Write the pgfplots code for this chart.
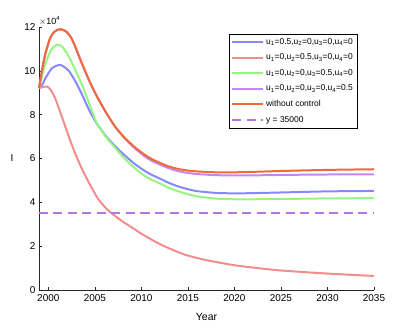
\documentclass[border=0pt]{standalone}
\usepackage{pgfplots}
\pgfplotsset{compat=1.18}
\usepackage{fontspec}
\setmainfont{Liberation Sans}

\definecolor{axisgray}{rgb}{0.15,0.15,0.15}
\definecolor{cblue}{rgb}{0.53,0.53,1.0}
\definecolor{cred}{rgb}{0.96,0.55,0.55}
\definecolor{cgreen}{rgb}{0.59,0.96,0.51}
\definecolor{cpurple}{rgb}{0.76,0.53,0.94}
\definecolor{corange}{rgb}{0.94,0.41,0.22}
\definecolor{cdash}{rgb}{0.69,0.47,0.88}

\pgfplotsset{
  cline/.style={draw=#1, line width=2pt, smooth, tension=0.4, no markers},
}

\begin{document}
\begin{tikzpicture}
\begin{axis}[
    name=ax,
    scale only axis,
    width=335bp, height=263bp,
    xmin=1999, xmax=2035,
    ymin=0, ymax=12,
    xtick={2000,2005,...,2035},
    ytick={0,2,...,12},
    axis lines*=left,
    axis line style={axisgray, line width=0.5pt},
    tick align=inside,
    major tick length=3.5bp,
    tick style={axisgray, line width=0.5pt},
    ticklabel style={font=\fontsize{10}{12}\selectfont},
    xticklabel style={/pgf/number format/1000 sep={}, yshift=-1.5bp},
    /pgf/number format/assume math mode=true,
    xlabel={Year},
    ylabel={I},
    label style={font=\fontsize{10.5}{12}\selectfont},
    xlabel style={yshift=-4.5bp},
    every axis y label/.style={at={(axis description cs:0,0.5)}, anchor=center, xshift=-27bp},
    legend cell align=left,
    legend style={at={(0.567,0.973)}, anchor=north west,
        font=\fontsize{8.5}{10}\selectfont,
        inner sep=2bp, row sep=4.2bp},
    legend image code/.code={\draw[#1] (0bp,0bp) -- (31bp,0bp);},
    clip=false,
]
\addplot[cline=cblue] coordinates {
(1999,9.21) (1999.4,9.4) (1999.7,9.67) (2000.4,10.12) (2001.3,10.27) (2002.2,10.0)
(2003.0,9.45) (2003.7,8.85) (2004.4,8.2) (2005.2,7.6) (2006.2,7.02) (2007.2,6.55)
(2008.2,6.15) (2009.2,5.78) (2010.2,5.48) (2011,5.28) (2012,5.08) (2013,4.88)
(2014,4.72) (2015,4.6) (2016,4.51) (2018,4.43) (2020,4.41) (2022,4.42)
(2025,4.45) (2030,4.5) (2035,4.52)};
\addlegendentry{u\textsubscript{1}=0.5,u\textsubscript{2}=0,u\textsubscript{3}=0,u\textsubscript{4}=0}

\addplot[cline=cred] coordinates {
(1999,9.21) (1999.5,9.27) (1999.9,9.28) (2000.3,9.1) (2000.8,8.68) (2001.7,7.61)
(2002.6,6.54) (2003.5,5.63) (2004.4,4.87) (2005.3,4.19) (2006.2,3.73) (2006.9,3.47)
(2008,3.12) (2009.1,2.82) (2010,2.57) (2011,2.32) (2012.3,2.03) (2014,1.72)
(2015,1.57) (2017,1.36) (2020,1.13) (2022.5,1.0) (2025,0.89) (2030,0.75) (2035,0.64)};
\addlegendentry{u\textsubscript{1}=0,u\textsubscript{2}=0.5,u\textsubscript{3}=0,u\textsubscript{4}=0}

\addplot[cline=cgreen] coordinates {
(1999,9.21) (1999.4,9.9) (1999.7,10.35) (2000.3,10.95) (2000.9,11.19) (2001.5,11.1)
(2002.2,10.65) (2003.0,9.95) (2003.7,9.28) (2004.4,8.5) (2005.2,7.62) (2006.2,6.98)
(2007.2,6.48) (2008.2,6.0) (2009.2,5.6) (2010.2,5.25) (2011,5.05) (2012,4.86)
(2013,4.65) (2014,4.5) (2015,4.37) (2016,4.27) (2018,4.17) (2020,4.14)
(2022,4.14) (2025,4.15) (2030,4.18) (2035,4.19)};
\addlegendentry{u\textsubscript{1}=0,u\textsubscript{2}=0,u\textsubscript{3}=0.5,u\textsubscript{4}=0}

\addplot[cline=cpurple] coordinates {
(1999,9.21) (1999.4,10.2) (1999.7,10.8) (2000.2,11.5) (2000.7,11.8) (2001.3,11.9)
(2001.9,11.8) (2002.4,11.55) (2002.8,11.2) (2003.5,10.45) (2004.4,9.55) (2005.2,8.85)
(2006.2,8.1) (2007.2,7.43) (2008.2,6.92) (2009.2,6.5) (2010.2,6.15) (2011,5.92)
(2012,5.72) (2013,5.55) (2014,5.42) (2015,5.34) (2016,5.29) (2018,5.24)
(2020,5.23) (2022,5.23) (2025,5.25) (2030,5.27) (2035,5.28)};
\addlegendentry{u\textsubscript{1}=0,u\textsubscript{2}=0,u\textsubscript{3}=0,u\textsubscript{4}=0.5}

\addplot[cline=corange] coordinates {
(1999,9.21) (1999.4,10.2) (1999.7,10.8) (2000.2,11.5) (2000.7,11.8) (2001.3,11.9)
(2001.9,11.8) (2002.4,11.55) (2002.8,11.2) (2003.5,10.45) (2004.4,9.55) (2005.2,8.85)
(2006.2,8.1) (2007.2,7.45) (2008.2,6.95) (2009.2,6.55) (2010.2,6.22) (2011,6.0)
(2012,5.8) (2013,5.63) (2014,5.52) (2015,5.45) (2016,5.41) (2018,5.37)
(2020,5.37) (2022,5.39) (2025,5.43) (2030,5.48) (2035,5.51)};
\addlegendentry{without control}

\addplot[draw=cdash, line width=2pt, no markers, dash pattern=on 9bp off 5.5bp] coordinates {
(1999,3.5) (2035,3.5)};
\addlegendentry{y = 35000}

\node[anchor=south west, inner sep=0pt, font=\fontsize{9}{10}\selectfont]
    at (rel axis cs:0,1) [yshift=1.5bp] {$\times$10\textsuperscript{4}};
\end{axis}
\path (ax.south west) ++(-39bp,-37bp) rectangle ++(400bp,327bp);
\end{tikzpicture}
\end{document}
